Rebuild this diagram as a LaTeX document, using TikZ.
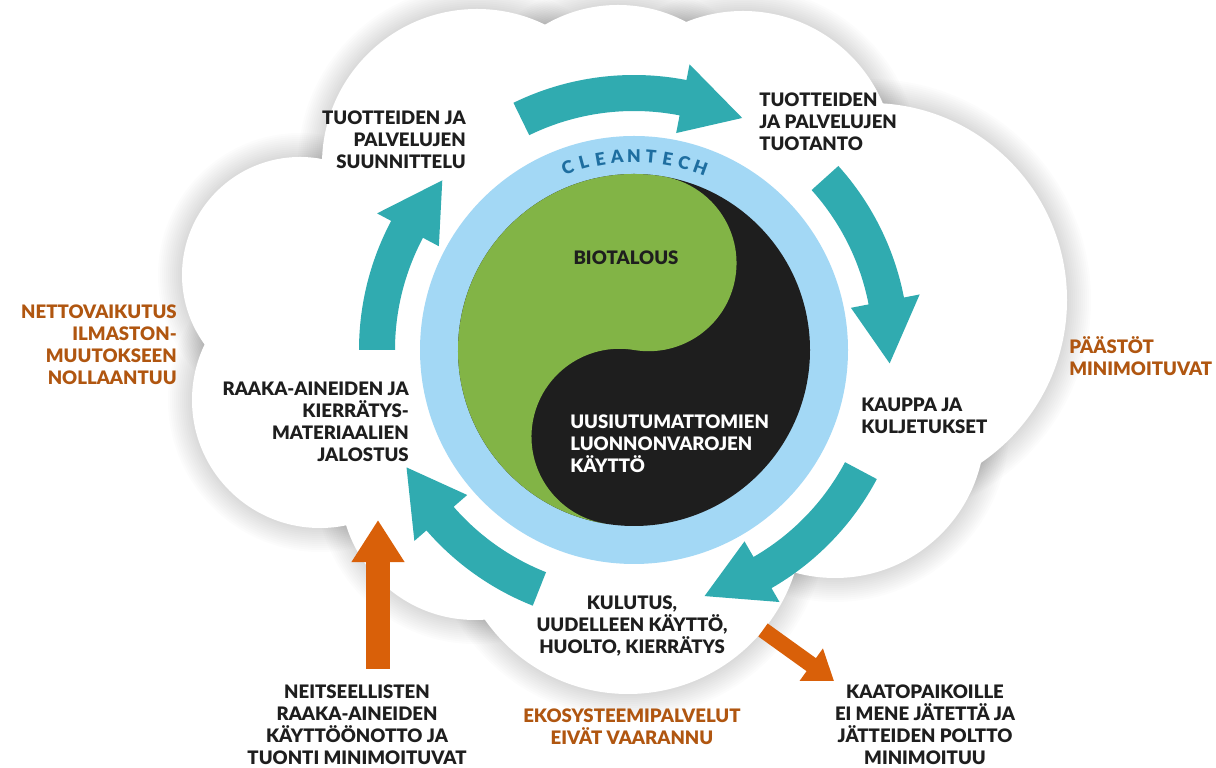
\documentclass[tikz,border=0pt]{standalone}
\usepackage{fontspec}
\setmainfont{Lato}[BoldFont={Lato Black}]
\usetikzlibrary{arrows.meta}

\definecolor{flowteal}{RGB}{48,171,176}
\definecolor{ringblue}{RGB}{163,216,245}
\definecolor{biogreen}{RGB}{130,180,70}
\definecolor{yangblack}{RGB}{30,30,30}
\definecolor{techblue}{RGB}{30,110,160}
\definecolor{notebrown}{RGB}{176,86,16}
\definecolor{flowout}{RGB}{217,96,9}

\tikzset{
  lbl/.style={font=\fontsize{13.2}{15.6}\selectfont\bfseries, inner sep=0pt, text=yangblack},
  note/.style={lbl, text=notebrown},
  cleantech/.style={font=\fontsize{12.5}{12.5}\selectfont\bfseries, text=techblue, inner sep=0pt},
  outarrow/.style={draw=flowout, line width=0.6cm, -{Triangle[length=1.05cm, width=1.25cm]}},
  diagarrow/.style={draw=flowout, line width=0.4cm, -{Triangle[length=0.7cm, width=0.95cm]}}
}

% lobes of the cloud: x/y/radius
\newcommand\cloudparts{634/418/250, 477/604/155, 618/618/145, 743/605/152, 870/468/197,
  835/340/150, 628/249/175, 475/283/135, 320/368/128, 300/493/118}

\begin{document}
\begin{tikzpicture}[x=0.025cm,y=0.025cm]
\useasboundingbox (0,0) rectangle (1216,768);
\fill[white] (0,0) rectangle (1216,768);

% cloud with soft shadow
\foreach \w in {4,8,...,48}
  \foreach \cx/\cy/\r in \cloudparts
    \draw[black, opacity=0.013, line width=\w*0.025cm] (\cx,\cy) circle[radius=\r];
\foreach \cx/\cy/\r in \cloudparts
  \fill[white] (\cx,\cy) circle[radius=\r];

% cleantech ring and yin-yang
\coordinate (mid) at (634,418);
\fill[ringblue] (mid) circle[radius=214];
\fill[yangblack] (mid) circle[radius=176];
\begin{scope}[shift={(mid)}, rotate=-9.5]
  \fill[biogreen] (90:176) arc[start angle=90, end angle=270, radius=176]
    arc[start angle=-90, end angle=-270, radius=88]
    arc[start angle=-90, end angle=90, radius=88] -- cycle;
\end{scope}

\begin{scope}[shift={(mid)}]
  \foreach \ch [count=\i, evaluate=\i as \a using 115-5*\i] in {C,L,E,A,N,T,E,C,H}
    \node[cleantech, rotate=\a-90] at (\a:194) {\ch};
  % circular flow arrows: tail/base of head/tip angles
  \foreach \t/\b/\p in {116/79/65, 42/11/-3, -28/-60/-74, 248.4/221/207.3, 180/152/138.5}
    \fill[flowteal] (\t:275) arc[start angle=\t, end angle=\b, radius=275] -- (\b:291)
      -- (\p:256) -- (\b:221) -- (\b:239) arc[start angle=\b, end angle=\t, radius=239] -- cycle;
\end{scope}

% stages of the cycle
\node[lbl, align=right, anchor=east] (design) at (466,628) {TUOTTEIDEN JA\\PALVELUJEN\\SUUNNITTELU};
\node[lbl, align=left, anchor=west] (production) at (759,646) {TUOTTEIDEN\\JA PALVELUJEN\\TUOTANTO};
\node[lbl, align=left, anchor=west] (trade) at (861,352) {KAUPPA JA\\KULJETUKSET};
\node[lbl, align=center] (use) at (632,142) {KULUTUS,\\UUDELLEEN KÄYTTÖ,\\HUOLTO, KIERRÄTYS};
\node[lbl, align=right, anchor=east] (refining) at (409,346) {RAAKA-AINEIDEN JA\\KIERRÄTYS-\\MATERIAALIEN\\JALOSTUS};
\node[lbl] (bio) at (626,510) {BIOTALOUS};
\node[lbl, text=white, align=left, anchor=west] (fossil) at (570,324) {UUSIUTUMATTOMIEN\\LUONNONVAROJEN\\KÄYTTÖ};

% goals around the cloud
\node[note, align=right, anchor=east] (climate) at (177,423) {NETTOVAIKUTUS\\ILMASTON-\\MUUTOKSEEN\\NOLLAANTUU};
\node[note, align=left, anchor=west] (emission) at (1069,412) {PÄÄSTÖT\\MINIMOITUVAT};
\node[note, align=center] (eco) at (632,41) {EKOSYSTEEMIPALVELUT\\EIVÄT VAARANNU};
\node[lbl, align=center] (landfill) at (925,43) {KAATOPAIKOILLE\\EI MENE JÄTETTÄ JA\\JÄTTEIDEN POLTTO\\MINIMOITUU};
\node[lbl, align=center] (virgin) at (357,43) {NEITSEELLISTEN\\RAAKA-AINEIDEN\\KÄYTTÖÖNOTTO JA\\TUONTI MINIMOITUVAT};

% inflow and outflow
\coordinate (inflow) at (378,99);
\coordinate (intake) at (378,248);
\coordinate (waste) at (763,138);
\coordinate (dump) at (834,87);
\draw[outarrow] (inflow) -- (intake);
\draw[diagarrow] (waste) -- (dump);
\end{tikzpicture}
\end{document}
